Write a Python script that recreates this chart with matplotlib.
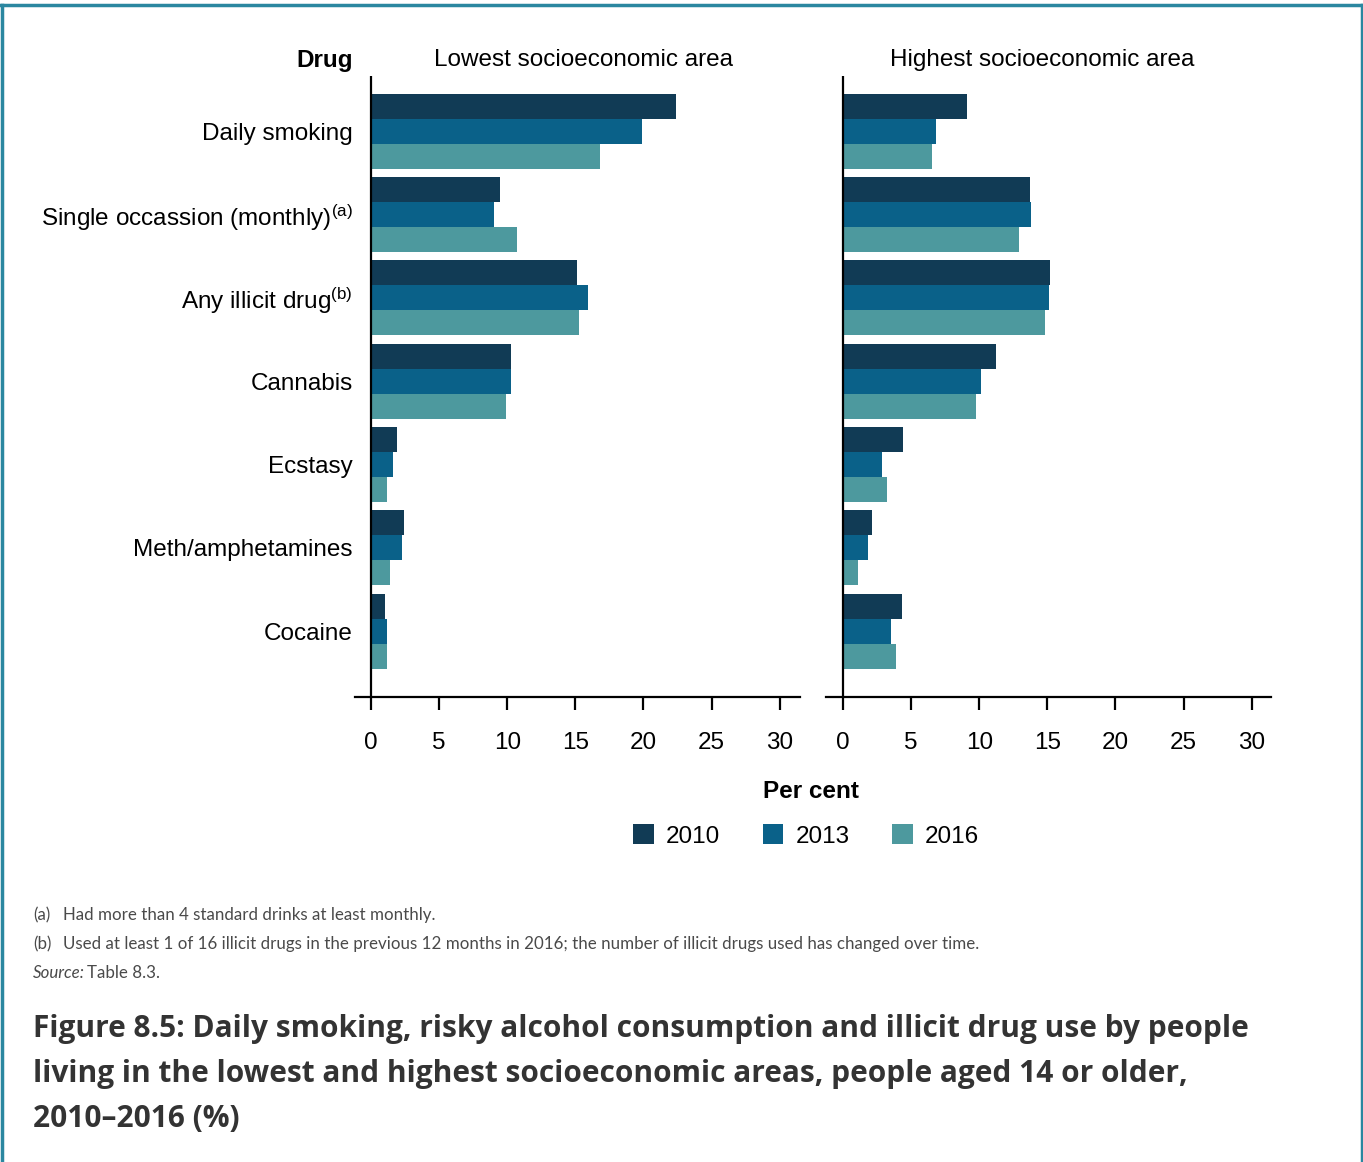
import matplotlib
matplotlib.use("Agg")
import matplotlib.pyplot as plt
from matplotlib.lines import Line2D
from matplotlib.patches import Patch
import numpy as np

# Data (per cent)
drugs = ["Daily smoking", "Single occassion (monthly)$^{(a)}$", "Any illicit drug$^{(b)}$",
         "Cannabis", "Ecstasy", "Meth/amphetamines", "Cocaine"]
years = ["2010", "2013", "2016"]
lowest_2010 = [22.4, 9.5, 15.1, 10.3, 1.9, 2.4, 1.0]
lowest_2013 = [19.9, 9.0, 15.9, 10.3, 1.6, 2.3, 1.2]
lowest_2016 = [16.8, 10.7, 15.3, 9.9, 1.2, 1.4, 1.2]
highest_2010 = [9.1, 13.7, 15.2, 11.2, 4.4, 2.1, 4.3]
highest_2013 = [6.8, 13.8, 15.1, 10.1, 2.9, 1.8, 3.5]
highest_2016 = [6.5, 12.9, 14.8, 9.8, 3.2, 1.1, 3.9]
xticks = [0, 5, 10, 15, 20, 25, 30]

colors = ["#113b55", "#0a6189", "#4d999e"]
W, H = 1363, 1162

plt.rcParams['font.family'] = ['Liberation Sans', 'DejaVu Sans']
plt.rcParams['mathtext.default'] = 'regular'

fig = plt.figure(figsize=(W / 100, H / 100), dpi=100)


def fx(x):
    return x / W


def fy(y):
    return 1 - y / H


def draw_panel(ax, series, x0):
    pos = np.arange(len(drugs))
    for k, vals in enumerate(series):
        ax.barh(pos + (k - 1) * 0.3, vals, height=0.3, color=colors[k], zorder=2)
    ax.set_xlim(x0, x0 + 445 / 13.62)
    ax.set_ylim(6.79, -0.66)
    for s in ["top", "right", "left"]:
        ax.spines[s].set_visible(False)
    ax.spines["bottom"].set_linewidth(1.6)
    ax.axvline(0, color="black", lw=1.6, zorder=3)
    ax.set_xticks(xticks)
    ax.tick_params(axis="x", length=9, width=1.6, labelsize=17.5, pad=16)
    ax.set_yticks(pos)


ax1 = fig.add_axes([fx(355), fy(697), 445 / W, 621 / H])
draw_panel(ax1, [lowest_2010, lowest_2013, lowest_2016], -16 / 13.62)
ax1.set_yticklabels(drugs, fontsize=17.5)
ax1.tick_params(axis="y", length=0, pad=1.5)

ax2 = fig.add_axes([fx(826), fy(697), 445 / W, 621 / H])
draw_panel(ax2, [highest_2010, highest_2013, highest_2016], -17 / 13.62)
ax2.set_yticklabels([])
ax2.tick_params(axis="y", length=0)

# headings
fig.text(fx(353), fy(61), "Drug", fontsize=17.5, fontweight="bold", ha="right", va="center")
fig.text(fx(584), fy(60), "Lowest socioeconomic area", fontsize=17.5, ha="center", va="center")
fig.text(fx(1042), fy(60), "Highest socioeconomic area", fontsize=17.5, ha="center", va="center")
fig.text(fx(811), fy(792), "Per cent", fontsize=17.5, fontweight="bold", ha="center", va="center")

handles = [Patch(facecolor=c, edgecolor="none") for c in colors]
fig.legend(handles, years, loc="center", bbox_to_anchor=(fx(806), fy(836)), ncol=3,
           frameon=False, fontsize=17.5, handlelength=0.85, handleheight=0.85,
           handletextpad=0.5, columnspacing=1.75)

# footnotes
note_font = ['Lato', 'DejaVu Sans']
grey = "#4a4a4a"
fs = 12.2
fig.text(fx(33), fy(915), "(a)", fontsize=fs, color=grey, family=note_font, va="center")
fig.text(fx(63), fy(915), "Had more than 4 standard drinks at least monthly.", fontsize=fs,
         color=grey, family=note_font, va="center")
fig.text(fx(33), fy(944), "(b)", fontsize=fs, color=grey, family=note_font, va="center")
fig.text(fx(63), fy(944), "Used at least 1 of 16 illicit drugs in the previous 12 months in 2016; "
         "the number of illicit drugs used has changed over time.", fontsize=fs,
         color=grey, family=note_font, va="center")
fig.text(fx(33), fy(973), "Source:", fontsize=fs, color=grey, family=note_font,
         style="italic", va="center")
fig.text(fx(87), fy(973), "Table 8.3.", fontsize=fs, color=grey, family=note_font, va="center")

# figure title
title_font = ['Open Sans', 'DejaVu Sans']
title_lines = ["Figure 8.5: Daily smoking, risky alcohol consumption and illicit drug use by people",
               "living in the lowest and highest socioeconomic areas, people aged 14 or older,",
               "2010\u20132016 (%)"]
for i, line in enumerate(title_lines):
    fig.text(fx(33), fy(1029 + 45 * i), line, fontsize=21.5, fontweight="bold", color="#333333",
             family=title_font, va="center")

# teal frame
frame = "#2b87a0"
fig.add_artist(Line2D([fx(1), fx(1362)], [fy(5), fy(5)], color=frame, lw=2.5))
fig.add_artist(Line2D([fx(1.5), fx(1.5)], [fy(5), fy(1162)], color=frame, lw=2.5))
fig.add_artist(Line2D([fx(1361.5), fx(1361.5)], [fy(5), fy(1162)], color=frame, lw=2.5))

fig.savefig("out.png", dpi=100)
